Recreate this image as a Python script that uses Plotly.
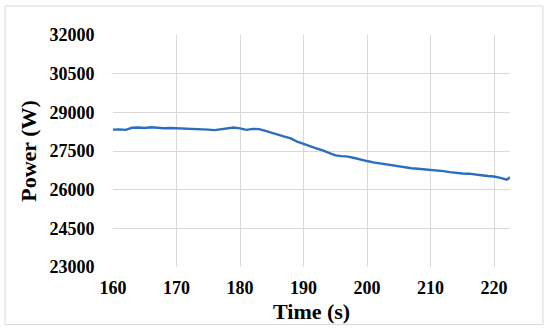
import plotly.graph_objects as go

time_s = [160, 161, 162, 163, 164, 165, 166, 167, 168, 169, 170, 171, 172, 173, 174, 175,
          176, 177, 178, 179, 180, 181, 182, 183, 184, 185, 186, 187, 188, 189, 190, 191,
          192, 193, 194, 195, 196, 197, 198, 199, 200, 201, 202, 203, 204, 205, 206, 207,
          208, 209, 210, 211, 212, 213, 214, 215, 216, 217, 218, 219, 220, 221, 222, 222.5]
power_w = [28330, 28340, 28320, 28400, 28410, 28390, 28420, 28400, 28380, 28390, 28380,
           28370, 28380, 28360, 28350, 28330, 28310, 28350, 28390, 28410, 28380, 28320,
           28360, 28350, 28280, 28200, 28140, 28060, 27990, 27860, 27780, 27680, 27600,
           27520, 27420, 27330, 27300, 27280, 27230, 27160, 27110, 27060, 27020, 27000,
           26960, 26910, 26880, 26830, 26810, 26790, 26770, 26740, 26720, 26680, 26650,
           26630, 26620, 26580, 26560, 26530, 26510, 26460, 26390, 26480]

x_ticks = [160, 170, 180, 190, 200, 210, 220]
x_tick_labels = ["160", "170", "180", "190", "200", "210", "220"]
y_ticks = [23000, 24500, 26000, 27500, 29000, 30500, 32000]
y_tick_labels = ["23000", "24500", "26000", "27500", "29000", "30500", "32000"]
x_title = "Time (s)"
y_title = "Power (W)"

serif = "Liberation Serif"

fig = go.Figure()
fig.add_trace(go.Scatter(x=time_s, y=power_w, mode="lines",
                         line=dict(color="#2A6FBF", width=2.4), showlegend=False))

fig.update_layout(
    width=550, height=332,
    margin=dict(l=113, r=40, t=35, b=65),
    paper_bgcolor="white", plot_bgcolor="white",
    font=dict(family=serif, color="black"),
    xaxis=dict(range=[160, 222.5], tickvals=x_ticks, ticktext=[f"<b>{t}</b>" for t in x_tick_labels],
               showgrid=True, gridcolor="#d9d9d9",
               gridwidth=1, zeroline=False, showline=False,
               ticks="outside", ticklen=4, tickcolor="rgba(0,0,0,0)",
               tickfont=dict(size=18, family=serif, color="black")),
    yaxis=dict(range=[23000, 32000], tickvals=y_ticks, ticktext=[f"<b>{t}</b>" for t in y_tick_labels],
               showgrid=True, gridcolor="#d9d9d9",
               gridwidth=1, zeroline=False, showline=False,
               ticks="outside", ticklen=14, tickcolor="rgba(0,0,0,0)",
               tickfont=dict(size=18, family=serif, color="black"),
               title=dict(text=f"<b>{y_title}</b>", font=dict(size=22, family=serif, color="black"),
                          standoff=6)),
    annotations=[dict(text=f"<b>{x_title}</b>", xref="paper", yref="paper",
                      x=0.5, y=-0.19, xanchor="center", yanchor="middle", showarrow=False,
                      font=dict(size=22, family=serif, color="black"))],
    shapes=[dict(type="rect", xref="paper", yref="paper",
                 x0=-0.272, x1=1.083, y0=-0.248, y1=1.125,
                 line=dict(color="#d9d9d9", width=1), fillcolor="rgba(0,0,0,0)")],
)

fig.write_html("out.html", config={"displayModeBar": False},
               post_script="document.body.style.margin='0px';")
